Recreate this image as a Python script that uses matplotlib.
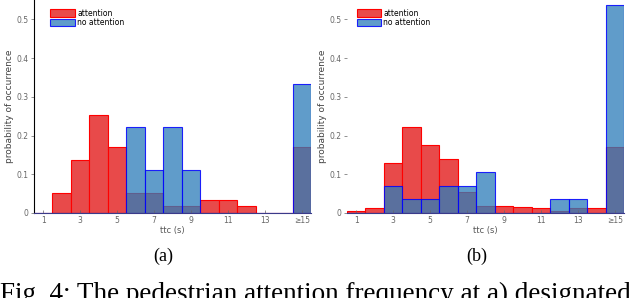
import matplotlib.pyplot as plt

# ttc bins (s); last bin stands for >= 15
bins = [1, 2, 3, 4, 5, 6, 7, 8, 9, 10, 11, 12, 13, 14, 15]
tick_pos = [1, 3, 5, 7, 9, 11, 13, 15]
tick_labels = ["1", "3", "5", "7", "9", "11", "13", "≥15"]
y_ticks = [0, 0.1, 0.2, 0.3, 0.4, 0.5]
y_tick_labels = ["0", "0.1", "0.2", "0.3", "0.4", "0.5"]

# (a) designated crossing
att_a = [0, 0.051, 0.136, 0.254, 0.170, 0.051, 0.051, 0.017, 0.017,
         0.034, 0.034, 0.017, 0, 0, 0.170]
noatt_a = [0, 0, 0, 0, 0, 0.222, 0.111, 0.222, 0.111,
           0, 0, 0, 0, 0, 0.333]

# (b)
att_b = [0.006, 0.012, 0.129, 0.222, 0.175, 0.140, 0.053, 0.018, 0.018,
         0.015, 0.012, 0.006, 0.012, 0.012, 0.170]
noatt_b = [0, 0, 0.071, 0.036, 0.036, 0.071, 0.071, 0.107, 0,
           0, 0, 0.036, 0.036, 0, 0.536]

red_face = "#e84a4a"
blue_face = (0.18, 0.49, 0.73, 0.76)

fig = plt.figure(figsize=(6.4, 2.98), dpi=100)
ax_a = fig.add_axes([34 / 640, 85 / 298, 277 / 640, 213 / 298])
ax_b = fig.add_axes([347 / 640, 85 / 298, 277 / 640, 213 / 298])

for ax, att, noatt, show_spine, lx in [(ax_a, att_a, noatt_a, True, 0.04),
                                       (ax_b, att_b, noatt_b, False, 0.015)]:
    ax.bar(bins, att, width=1.0, color=red_face, edgecolor="red",
           linewidth=0.8, label="attention")
    ax.bar(bins, noatt, width=1.0, color=blue_face,
           edgecolor=(0, 0, 1, 0.85), linewidth=0.8, label="no attention")
    ax.set_xlim(0.5, 15.5)
    ax.set_ylim(0, 0.55)
    ax.set_xticks(tick_pos)
    ax.set_xticklabels(tick_labels)
    ax.set_yticks(y_ticks)
    ax.set_yticklabels(y_tick_labels)
    ax.tick_params(axis="both", labelsize=5.5, colors="#666666", length=2,
                   width=0.5, pad=2)
    ax.tick_params(axis="x", direction="in")
    for s in ["top", "right"]:
        ax.spines[s].set_visible(False)
    ax.spines["left"].set_visible(show_spine)
    ax.spines["left"].set_color("black")
    ax.spines["bottom"].set_color("#3a3a8a")
    ax.spines["bottom"].set_linewidth(0.8)
    ax.set_xlabel("ttc (s)", fontsize=6, color="#555555", labelpad=1)
    ax.set_ylabel("probability of occurrence", fontsize=6.5, color="#444444",
                  labelpad=2)
    ax.legend(loc="upper left", fontsize=5.5, frameon=False,
              bbox_to_anchor=(lx, 0.985), handlelength=3.2,
              handleheight=1.1, labelspacing=0.1, handletextpad=0.3,
              borderaxespad=0.3)

fig.text(163 / 640, 1 - 256 / 298, "(a)", ha="center", va="center",
         fontsize=13, family="Liberation Serif")
fig.text(477 / 640, 1 - 256 / 298, "(b)", ha="center", va="center",
         fontsize=13, family="Liberation Serif")
fig.text(0, -3 / 298, "Fig. 4: The pedestrian attention frequency at a) designated",
         ha="left", va="baseline", fontsize=19.5, family="Liberation Serif")

fig.savefig("out.png", dpi=100)
